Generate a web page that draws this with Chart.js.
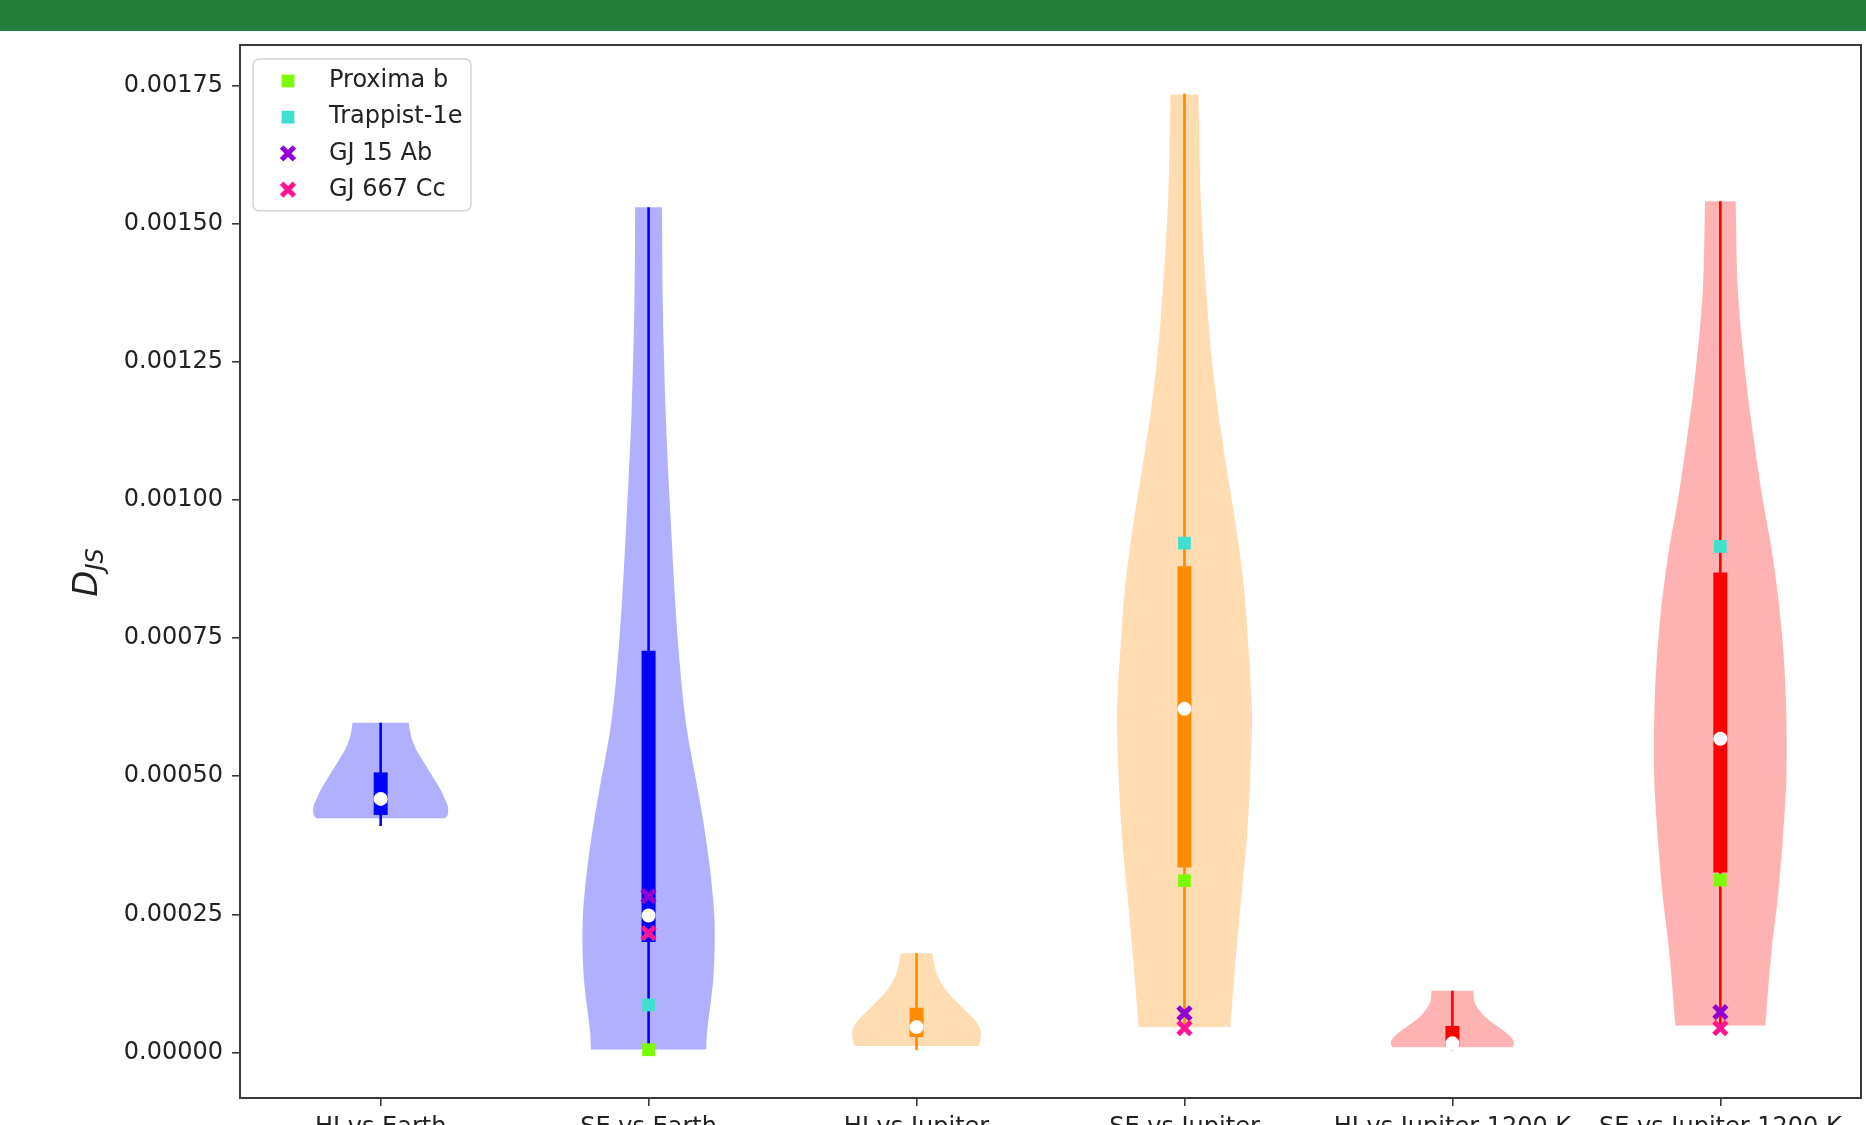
<!DOCTYPE html>
<html>
<head>
<meta charset="utf-8">
<title>Jensen-Shannon divergence by comparison</title>
<script src="https://cdn.jsdelivr.net/npm/chart.js@4.4.1/dist/chart.umd.min.js"></script>
<style>
  html, body { margin: 0; padding: 0; background: #ffffff; width: 1866px; height: 1125px; overflow: hidden; }
  #frame { position: relative; width: 1866px; height: 1125px; overflow: hidden; background: #ffffff; }
  #band { position: absolute; left: 0; top: 0; width: 1866px; height: 31px; background: #237f3b; z-index: 2; }
  #plot { position: absolute; left: 0; top: 0; }
</style>
</head>
<body>
<div id="frame">
  <div id="band"></div>
  <canvas id="plot" width="1866" height="1160"></canvas>
</div>
<script>
// ---- data -------------------------------------------------------------
const categories = ['HI vs Earth', 'SE vs Earth', 'HI vs Jupiter', 'SE vs Jupiter', 'HI vs Jupiter 1200 K', 'SE vs Jupiter 1200 K'];
const positions = [1, 2, 3, 4, 5, 6];
const yTickValues = [0, 0.00025, 0.0005, 0.00075, 0.001, 0.00125, 0.0015, 0.00175];

// violin outlines: D_JS levels and the half-width of the density at each level
const levelsHIEarth = [0.000424, 0.000430, 0.000445, 0.000460, 0.000475, 0.000490, 0.000505, 0.000520, 0.000535, 0.000550, 0.000565, 0.000580, 0.000597];
const widthsHIEarth = [0.240, 0.250, 0.251, 0.238, 0.224, 0.206, 0.187, 0.168, 0.149, 0.131, 0.118, 0.110, 0.105];

const levelsSEEarth = [0.0000054, 0.0000358, 0.000137, 0.000239, 0.000341, 0.000442, 0.000595, 0.000747, 0.000950, 0.001154, 0.001357, 0.001530];
const widthsSEEarth = [0.215, 0.218, 0.242, 0.246, 0.227, 0.196, 0.140, 0.109, 0.084, 0.064, 0.053, 0.050];

const levelsHIJupiter = [0.0000118, 0.0000226, 0.0000407, 0.0000588, 0.0000829, 0.0001131, 0.0001433, 0.0001795];
const widthsHIJupiter = [0.232, 0.238, 0.239, 0.218, 0.168, 0.109, 0.075, 0.059];

const levelsSEJupiter = [0.0000461, 0.000160, 0.000275, 0.000389, 0.000503, 0.000617, 0.000731, 0.000846, 0.000960, 0.001074, 0.001188, 0.001302, 0.001531, 0.001734];
const widthsSEJupiter = [0.171, 0.190, 0.211, 0.233, 0.246, 0.252, 0.239, 0.221, 0.190, 0.152, 0.118, 0.093, 0.062, 0.052];

const levelsHIJupiter1200 = [0.0000094, 0.0000196, 0.0000317, 0.0000467, 0.0000648, 0.000089, 0.0001118];
const widthsHIJupiter1200 = [0.225, 0.230, 0.211, 0.171, 0.121, 0.084, 0.078];

const levelsSEJupiter1200 = [0.000049, 0.000179, 0.000283, 0.000386, 0.000490, 0.000594, 0.000698, 0.000802, 0.000906, 0.001010, 0.001113, 0.001217, 0.001373, 0.001541];
const widthsSEJupiter1200 = [0.168, 0.190, 0.215, 0.233, 0.246, 0.247, 0.239, 0.221, 0.193, 0.155, 0.124, 0.096, 0.066, 0.057];

// summary statistics per comparison
const whiskerLow  = [0.000410, 0.0000054, 0.000004, 0.0000474, 0.000004, 0.000049];
const quartile1   = [0.000430, 0.000200, 0.000028, 0.000335, 0.000012, 0.000326];
const medians     = [0.000459, 0.000248, 0.000046, 0.000622, 0.0000166, 0.000568];
const quartile3   = [0.000507, 0.000727, 0.000081, 0.000880, 0.000048, 0.000869];
const whiskerHigh = [0.000597, 0.001530, 0.000180, 0.001736, 0.000112, 0.001541];

// individual planets, evaluated for the SE comparisons
const planetPositions = [2, 4, 6];
const proximaB   = [0.000005, 0.000311, 0.000312];
const trappist1e = [0.000086, 0.000922, 0.000916];
const gj15Ab     = [0.000283, 0.000071, 0.000073];
const gj667Cc    = [0.000216, 0.000044, 0.000044];

// ---- styling ----------------------------------------------------------
const violinLevels = [levelsHIEarth, levelsSEEarth, levelsHIJupiter, levelsSEJupiter, levelsHIJupiter1200, levelsSEJupiter1200];
const violinWidths = [widthsHIEarth, widthsSEEarth, widthsHIJupiter, widthsSEJupiter, widthsHIJupiter1200, widthsSEJupiter1200];
const lineColors = ['rgb(0,0,255)', 'rgb(0,0,255)', 'rgb(255,140,0)', 'rgb(255,140,0)', 'rgb(255,0,0)', 'rgb(255,0,0)'];
const bodyColors = ['rgba(0,0,255,0.31)', 'rgba(0,0,255,0.31)', 'rgba(255,140,0,0.3)', 'rgba(255,140,0,0.3)', 'rgba(255,0,0,0.3)', 'rgba(255,0,0,0.3)'];
const FONT = 'DejaVu Sans';
const TEXT = '#222222';
const SPINE = '#3a3a3a';

const datasets = [];

// Each body is a closed outline: right side upwards, left side downwards.
// Corner points are repeated so the smoothed sides keep flat ends.
violinLevels.forEach((lv, i) => {
  const pos = positions[i];
  const w = violinWidths[i];
  const right = lv.map((y, k) => ({ x: pos + w[k], y }));
  const left = lv.map((y, k) => ({ x: pos - w[k], y })).reverse();
  const outline = [right[0]].concat(right, [right[right.length - 1], left[0]], left, [left[left.length - 1], right[0]]);
  datasets.push({
    label: categories[i],
    kind: 'body',
    data: outline,
    showLine: true,
    fill: 'shape',
    tension: 0.3,
    backgroundColor: bodyColors[i],
    borderColor: 'rgba(0,0,0,0)',
    borderWidth: 0,
    pointRadius: 0,
    order: 60
  });
});

positions.forEach((pos, i) => {
  datasets.push({
    label: categories[i] + ' range',
    kind: 'whisker',
    data: [{ x: pos, y: whiskerLow[i] }, { x: pos, y: whiskerHigh[i] }],
    showLine: true,
    borderColor: lineColors[i],
    borderWidth: 2.6,
    pointRadius: 0,
    order: 50
  });
  datasets.push({
    label: categories[i] + ' IQR',
    kind: 'box',
    data: [{ x: pos, y: quartile1[i] }, { x: pos, y: quartile3[i] }],
    showLine: true,
    borderColor: lineColors[i],
    borderWidth: 14,
    borderCapStyle: 'butt',
    pointRadius: 0,
    order: 40
  });
});

datasets.push({
  label: 'median',
  kind: 'median',
  data: positions.map((p, i) => ({ x: p, y: medians[i] })),
  pointStyle: 'circle',
  pointRadius: 7,
  backgroundColor: '#ffffff',
  borderWidth: 0,
  order: 30
});

const planetSeries = [
  { label: 'Proxima b',   values: proximaB,   color: '#7CFC00', style: 'rect',     order: 14 },
  { label: 'Trappist-1e', values: trappist1e, color: '#40E0D0', style: 'rect',     order: 13 },
  { label: 'GJ 15 Ab',    values: gj15Ab,     color: '#9400D3', style: 'crossRot', order: 12 },
  { label: 'GJ 667 Cc',   values: gj667Cc,    color: '#FF1493', style: 'crossRot', order: 11 }
];
planetSeries.forEach(p => {
  const isCross = p.style === 'crossRot';
  datasets.push({
    label: p.label,
    kind: 'planet',
    data: planetPositions.map((x, i) => ({ x, y: p.values[i] })),
    pointStyle: p.style,
    pointRadius: 9,
    backgroundColor: p.color,
    borderColor: p.color,
    borderWidth: isCross ? 5 : 0,
    order: p.order
  });
});

// ---- plugins ----------------------------------------------------------
const frameBox = {
  id: 'frameBox',
  afterDatasetsDraw(chart) {
    const { ctx, chartArea: a } = chart;
    ctx.save();
    ctx.strokeStyle = SPINE;
    ctx.lineWidth = 2;
    ctx.strokeRect(a.left, a.top, a.right - a.left, a.bottom - a.top);
    ctx.restore();
  }
};

const yTitle = {
  id: 'yTitle',
  afterDraw(chart) {
    const ctx = chart.ctx;
    const big = 'italic 34px "' + FONT + '"';
    const small = 'italic 24px "' + FONT + '"';
    ctx.save();
    ctx.translate(97, (chart.chartArea.top + chart.chartArea.bottom) / 2 + 1);
    ctx.rotate(-Math.PI / 2);
    ctx.fillStyle = TEXT;
    ctx.textAlign = 'left';
    ctx.textBaseline = 'alphabetic';
    ctx.font = big;
    const wD = ctx.measureText('D').width;
    ctx.font = small;
    const wS = ctx.measureText('JS').width;
    const start = -(wD + wS) / 2;
    ctx.font = big;
    ctx.fillText('D', start, 0);
    ctx.font = small;
    ctx.fillText('JS', start + wD, 6);
    ctx.restore();
  }
};

function drawMarker(ctx, ds, x, y) {
  const r = ds.pointRadius;
  const h = r * Math.SQRT1_2;
  ctx.save();
  if (ds.pointStyle === 'rect') {
    ctx.fillStyle = ds.backgroundColor;
    ctx.fillRect(x - h, y - h, 2 * h, 2 * h);
  } else {
    ctx.strokeStyle = ds.borderColor;
    ctx.lineWidth = ds.borderWidth;
    ctx.beginPath();
    ctx.moveTo(x - h, y - h); ctx.lineTo(x + h, y + h);
    ctx.moveTo(x + h, y - h); ctx.lineTo(x - h, y + h);
    ctx.stroke();
  }
  ctx.restore();
}

const planetLegend = {
  id: 'planetLegend',
  afterDraw(chart) {
    const ctx = chart.ctx;
    const a = chart.chartArea;
    const items = chart.data.datasets.filter(d => d.kind === 'planet');
    const x0 = a.left + 13, y0 = a.top + 14, w = 218, rowH = 36.2, h = items.length * rowH + 7;
    ctx.save();
    ctx.beginPath();
    ctx.roundRect(x0, y0, w, h, 6);
    ctx.fillStyle = 'rgba(255,255,255,0.85)';
    ctx.fill();
    ctx.strokeStyle = '#d2d2d2';
    ctx.lineWidth = 1.5;
    ctx.stroke();
    ctx.font = '24px "' + FONT + '"';
    ctx.fillStyle = TEXT;
    ctx.textAlign = 'left';
    ctx.textBaseline = 'middle';
    items.forEach((ds, i) => {
      const cy = y0 + 22 + i * rowH;
      drawMarker(ctx, ds, x0 + 35, cy);
      ctx.fillStyle = TEXT;
      ctx.fillText(ds.label, x0 + 76, cy);
    });
    ctx.restore();
  }
};

// ---- chart ------------------------------------------------------------
new Chart(document.getElementById('plot'), {
  type: 'scatter',
  data: { datasets },
  options: {
    responsive: false,
    animation: false,
    events: [],
    devicePixelRatio: 1,
    layout: { autoPadding: false, padding: { top: 45, right: 5, left: 0, bottom: 0 } },
    plugins: {
      legend: { display: false },
      tooltip: { enabled: false }
    },
    scales: {
      x: {
        type: 'linear',
        min: 0.475,
        max: 6.525,
        afterBuildTicks: s => { s.ticks = positions.map(v => ({ value: v })); },
        afterFit: s => { s.height = 62; s.paddingLeft = 0; s.paddingRight = 0; },
        ticks: {
          autoSkip: false,
          maxRotation: 0,
          minRotation: 0,
          padding: 7,
          color: TEXT,
          font: { family: FONT, size: 24 },
          callback: (v, i) => categories[i]
        },
        grid: { drawOnChartArea: false, drawTicks: true, tickLength: 8, color: SPINE, lineWidth: 1.6 },
        border: { display: false }
      },
      y: {
        type: 'linear',
        min: -0.00008236,
        max: 0.0018236,
        afterBuildTicks: s => { s.ticks = yTickValues.map(v => ({ value: v })); },
        afterFit: s => { s.width = 240; s.paddingTop = 0; s.paddingBottom = 0; },
        ticks: {
          padding: 9,
          color: TEXT,
          font: { family: FONT, size: 24 },
          callback: v => v.toFixed(5)
        },
        grid: { drawOnChartArea: false, drawTicks: true, tickLength: 8, color: SPINE, lineWidth: 1.6 },
        border: { display: false }
      }
    }
  },
  plugins: [frameBox, yTitle, planetLegend]
});
</script>
</body>
</html>
